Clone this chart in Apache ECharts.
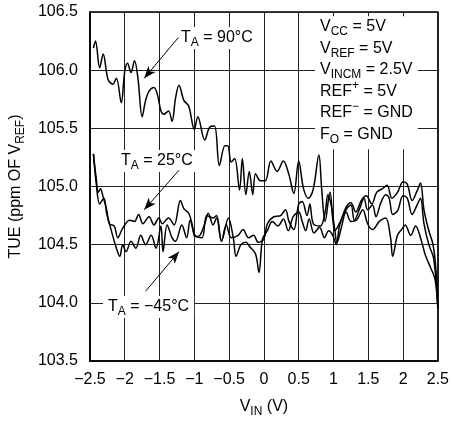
<!DOCTYPE html>
<html><head><meta charset="utf-8">
<script src="https://cdn.jsdelivr.net/npm/echarts@6/dist/echarts.min.js"></script>
<style>html,body{margin:0;padding:0;background:#fff}#c{width:452px;height:423px}</style>
</head><body><div id="c"></div>
<script>
const FONT = "'Liberation Sans', Arial, sans-serif";
const xTicks = [-2.5,-2,-1.5,-1,-0.5,0,0.5,1,1.5,2,2.5];
const yTicks = [103.5,104.0,104.5,105.0,105.5,106.0,106.5];

const t90X = [-2.45,-2.42,-2.36,-2.31,-2.24,-2.17,-2.12,-2.05,-2.00,-1.96,-1.91,-1.86,-1.81,-1.75,-1.70,-1.65,-1.58,-1.53,-1.48,-1.44,-1.37,-1.32,-1.27,-1.22,-1.15,-1.08,-1.00,-0.95,-0.85,-0.78,-0.71,-0.64,-0.56,-0.52,-0.47,-0.42,-0.35,-0.31,-0.26,-0.21,-0.16,-0.12,-0.05,0.02,0.10,0.19,0.28,0.36,0.43,0.50,0.57,0.64,0.71,0.79,0.83,0.88,0.95,1.02,1.10,1.18,1.25,1.32,1.40,1.47,1.55,1.62,1.70,1.77,1.84,1.92,2.00,2.06,2.13,2.20,2.25,2.30,2.37,2.43,2.47,2.50];
const t90Y = [106.19,106.25,106.02,106.14,105.92,105.88,105.93,105.72,105.99,106.06,105.98,106.08,105.93,105.60,105.74,105.82,105.85,105.79,105.65,105.62,105.65,105.56,105.76,105.87,105.74,105.69,105.49,105.60,105.40,105.51,105.52,105.18,105.35,105.35,105.21,105.24,104.97,105.24,104.93,105.13,104.93,105.11,105.05,105.05,105.22,105.13,105.22,105.10,104.94,105.22,104.98,104.90,104.98,105.27,104.98,104.70,104.95,104.62,104.70,104.82,104.86,104.78,104.88,104.92,104.85,104.95,104.98,105.01,104.90,104.95,105.04,105.02,104.88,104.96,105.03,104.80,104.62,104.50,104.30,103.95];

const t25X = [-2.45,-2.41,-2.38,-2.35,-2.31,-2.26,-2.22,-2.15,-2.10,-2.03,-1.93,-1.86,-1.80,-1.74,-1.65,-1.58,-1.51,-1.46,-1.37,-1.29,-1.20,-1.15,-1.08,-1.03,-0.99,-0.92,-0.84,-0.80,-0.73,-0.68,-0.61,-0.54,-0.47,-0.37,-0.30,-0.22,-0.15,-0.08,0.00,0.05,0.14,0.24,0.31,0.36,0.43,0.50,0.55,0.62,0.66,0.71,0.81,0.88,0.92,0.97,1.02,1.05,1.11,1.18,1.25,1.30,1.37,1.44,1.49,1.56,1.61,1.68,1.75,1.80,1.85,1.92,2.00,2.06,2.13,2.20,2.25,2.30,2.37,2.44,2.50];
const t25Y = [105.28,105.07,104.95,104.98,104.91,104.80,104.68,104.66,104.56,104.64,104.71,104.70,104.76,104.68,104.74,104.67,104.73,104.68,104.73,104.67,104.88,104.81,104.77,104.67,104.57,104.58,104.70,104.77,104.67,104.73,104.53,104.67,104.56,104.58,104.63,104.56,104.58,104.52,104.55,104.68,104.74,104.75,104.80,104.70,104.63,104.85,104.87,104.75,104.85,104.68,104.66,104.78,104.93,104.83,104.62,104.52,104.64,104.80,104.84,104.71,104.80,104.90,104.80,104.84,104.74,104.86,104.93,104.90,104.76,104.79,104.92,104.90,104.76,104.84,104.90,104.68,104.50,104.38,103.95];

const tm45X = [-2.45,-2.41,-2.36,-2.30,-2.26,-2.22,-2.12,-2.07,-2.03,-1.98,-1.91,-1.84,-1.77,-1.70,-1.62,-1.55,-1.48,-1.45,-1.39,-1.32,-1.27,-1.18,-1.11,-1.06,-0.99,-0.89,-0.82,-0.73,-0.68,-0.61,-0.51,-0.44,-0.40,-0.33,-0.26,-0.20,-0.12,-0.07,-0.02,0.05,0.12,0.20,0.28,0.35,0.42,0.50,0.55,0.60,0.65,0.72,0.80,0.87,0.93,0.99,1.04,1.09,1.18,1.25,1.33,1.42,1.49,1.56,1.66,1.75,1.82,1.85,1.92,1.99,2.03,2.11,2.18,2.25,2.32,2.39,2.46,2.50];
const tm45Y = [105.28,105.03,104.85,104.90,104.77,104.68,104.47,104.40,104.50,104.44,104.53,104.47,104.58,104.50,104.58,104.47,104.66,104.44,104.67,104.56,104.53,104.67,104.56,104.71,104.58,104.56,104.75,104.73,104.75,104.53,104.73,104.56,104.40,104.50,104.52,104.48,104.42,104.26,104.55,104.62,104.70,104.66,104.72,104.62,104.74,104.78,104.70,104.62,104.72,104.60,104.65,104.56,104.62,104.58,104.50,104.67,104.78,104.70,104.71,104.80,104.68,104.63,104.70,104.73,104.56,104.40,104.58,104.64,104.67,104.58,104.66,104.56,104.41,104.31,104.20,103.95];

// annotation arrows: [fromX, fromY, toX, toY] in data units
const arrow90 = [-1.23, 106.28, -1.72, 105.93];
const arrow25 = [-1.22, 105.14, -1.72, 104.80];
const arrowM45 = [-1.70, 104.10, -1.22, 104.44];

const pair = (xs, ys) => xs.map((x, i) => [x, ys[i]]);
const fmtX = v => (v < 0 ? '\u2212' : '') + String(Math.abs(v));
const rich = {
  n: {fontSize: 16, fontFamily: FONT, color: '#000'},
  s: {fontSize: 12, fontFamily: FONT, color: '#000', padding: [10, 0, 0, 0]},
  p: {fontSize: 12, fontFamily: FONT, color: '#000', padding: [0, 0, 12, 0]}
};
const richLH = {};
for (const k in rich) richLH[k] = Object.assign({}, rich[k], {lineHeight: 21.5});

const chart = echarts.init(document.getElementById('c'), null, {renderer: 'canvas'});
const lineSeries = (name, data, extra) => Object.assign({
  name, type: 'line', data, showSymbol: false, symbol: 'none', smooth: 0.35,
  lineStyle: {color: '#000', width: 1.5}, animation: false, z: 3
}, extra || {});
const mk = a => [{coord: [a[0], a[1]]}, {coord: [a[2], a[3]]}];

chart.setOption({
  animation: false,
  backgroundColor: '#fff',
  grid: {left: 87, right: 12.5, top: 12, bottom: 59.5, show: true, borderColor: '#000', borderWidth: 1.5, backgroundColor: 'transparent'},
  xAxis: {
    type: 'value', min: -2.5, max: 2.5, interval: 0.5,
    axisLine: {show: true, onZero: false, lineStyle: {color: '#000', width: 1.5}},
    axisTick: {show: false},
    splitLine: {show: true, lineStyle: {color: '#222', width: 1}},
    axisLabel: {color: '#000', fontSize: 16, fontFamily: FONT, margin: 11, formatter: fmtX, showMinLabel: true, showMaxLabel: true},
    name: '{n|V}{s|IN}{n| (V)}', nameLocation: 'middle', nameGap: 35,
    nameTextStyle: {rich}
  },
  yAxis: {
    type: 'value', min: 103.5, max: 106.5, interval: 0.5,
    axisLine: {show: true, onZero: false, lineStyle: {color: '#000', width: 1.5}},
    axisTick: {show: false},
    splitLine: {show: true, lineStyle: {color: '#222', width: 1}},
    axisLabel: {color: '#000', fontSize: 16, fontFamily: FONT, margin: 12, formatter: v => v.toFixed(1)},
    name: '{n|TUE (ppm OF V}{s|REF}{n|)}', nameLocation: 'middle', nameGap: 62,
    nameTextStyle: {rich}
  },
  series: [
    lineSeries('90', pair(t90X, t90Y), {
      markLine: {
        silent: true, animation: false, symbol: ['none', 'arrow'], symbolSize: [7, 12],
        label: {show: false},
        lineStyle: {color: '#000', width: 1, type: 'solid'},
        data: [mk(arrow90), mk(arrow25), mk(arrowM45)]
      }
    }),
    lineSeries('25', pair(t25X, t25Y)),
    lineSeries('-45', pair(tm45X, tm45Y))
  ],
  graphic: [
    {type: 'text', left: 178, top: 27, z: 5, style: {text: '{n|T}{s|A}{n| = 90°C}', rich, backgroundColor: '#fff', padding: [0, 3]}},
    {type: 'text', left: 118, top: 150, z: 5, style: {text: '{n|T}{s|A}{n| = 25°C}', rich, backgroundColor: '#fff', padding: [0, 3]}},
    {type: 'text', left: 103, top: 296, z: 5, style: {text: '{n|T}{s|A}{n| = \u221245°C}', rich, backgroundColor: '#fff', padding: [0, 5]}},
    {type: 'text', left: 315, top: 16, z: 5, style: {
      text: '{n|V}{s|CC}{n| = 5V}\n{n|V}{s|REF}{n| = 5V}\n{n|V}{s|INCM}{n| = 2.5V}\n{n|REF}{p|+}{n| = 5V}\n{n|REF}{p|\u2212}{n| = GND}\n{n|F}{s|O}{n| = GND}',
      rich: richLH, backgroundColor: '#fff', padding: [0, 5, 4, 5]}}
  ]
});
</script></body></html>
